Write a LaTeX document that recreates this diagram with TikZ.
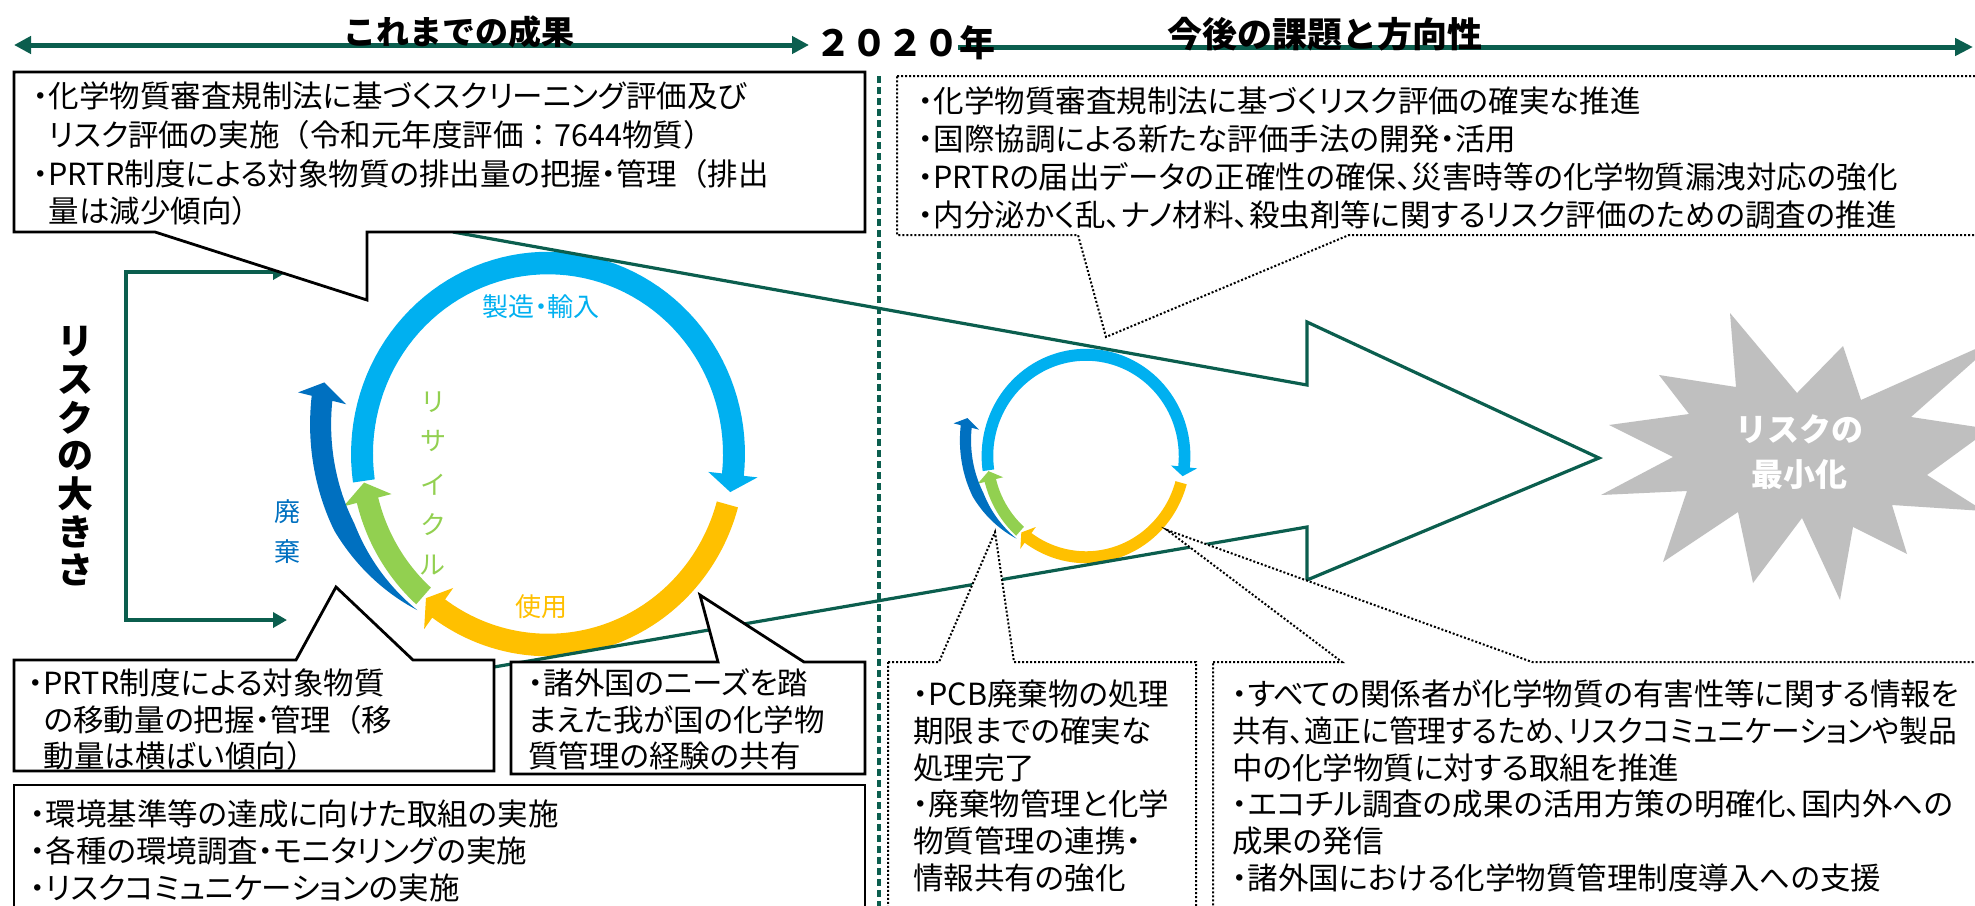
\documentclass[tikz,border=0pt]{standalone}
\usepackage{fontspec}
\usepackage{graphicx}
\setmainfont{Noto Sans CJK JP}[RawFeature=+palt]
\newfontfamily\jpt{Noto Sans CJK JP}
\usetikzlibrary{arrows.meta}
\definecolor{rteal}{HTML}{0B5E4E}
\definecolor{cyanb}{HTML}{00B0F0}
\definecolor{yelw}{HTML}{FFC000}
\definecolor{grn}{HTML}{92D050}
\definecolor{darkb}{HTML}{0070C0}
\definecolor{starg}{HTML}{BFBFBF}
\newcommand\fw[1]{{\jpt #1}}
% ring band with arrow head: start angle, base angle, tip angle, colour
\newcommand\rband[4]{%
  \fill[#4] plot[domain=#1:#2, samples=70, variable=\q] ({1.059*186*cos(\q)},{-1.059*191*sin(\q)})
    -- ({1.133*186*cos(#2)},{-1.133*191*sin(#2)})
    -- ({186*cos(#3)},{-191*sin(#3)})
    -- ({0.867*186*cos(#2)},{-0.867*191*sin(#2)})
    -- plot[domain=#2:#1, samples=70, variable=\q] ({0.941*186*cos(\q)},{-0.941*191*sin(\q)}) -- cycle;}
\newcommand\dband{%
  \fill[darkb] plot[domain=229.3:166.5, samples=60, variable=\q]
      ({(1.078+(229.3-\q)*0.00273+0.057*min(1,(229.3-\q)/30))*186*cos(\q)},
       {-(1.078+(229.3-\q)*0.00273+0.057*min(1,(229.3-\q)/30))*191*sin(\q)})
    -- ({1.382*186*cos(166.5)},{-1.382*191*sin(166.5)})
    -- ({1.26*186*cos(162.7)},{-1.26*191*sin(162.7)})
    -- ({1.116*186*cos(166.5)},{-1.116*191*sin(166.5)})
    -- plot[domain=166.5:229.3, samples=60, variable=\q]
      ({(1.078+(229.3-\q)*0.00273-0.057*min(1,(229.3-\q)/30))*186*cos(\q)},
       {-(1.078+(229.3-\q)*0.00273-0.057*min(1,(229.3-\q)/30))*191*sin(\q)})
    -- cycle;}
\newcommand\cyclebody{%
  \rband{188.1}{-6.2}{-11.5}{cyanb}%
  \rband{-15.3}{-126}{-131}{yelw}%
  \rband{228}{194}{188.6}{grn}%
  \dband}
\tikzset{
  body/.style={anchor=base west, inner sep=0pt, font=\fontsize{15.25}{18}\selectfont},
  boxline/.style={draw=black, line width=1.4pt, fill=white, line join=miter},
  dotbox/.style={draw=black, line width=1pt, dash pattern=on 1pt off 1pt, fill=white},
  head/.style={anchor=base, inner sep=0pt, font=\jpt\bfseries\fontsize{16.5}{20}\selectfont},
  clabel/.style={inner sep=0pt, font=\fontsize{13}{13}\selectfont},
  tealline/.style={draw=rteal, line width=1.6pt, line join=miter},
}
\begin{document}
\begin{tikzpicture}[x=0.5pt,y=-0.5pt]
\useasboundingbox (0,0) rectangle (1975,905);
\begin{scope}
\clip (0,0) rectangle (1975,905);
\fill[white] (0,0) rectangle (1975,905);

% top timeline arrows
\coordinate (la) at (14,45);
\coordinate (lb) at (809,45);
\coordinate (ra) at (958,47);
\coordinate (rb) at (1973,47);
\draw[rteal, line width=2.5pt, {Triangle[length=8.5pt,width=8.5pt]}-{Triangle[length=8.5pt,width=8.5pt]}] (la) -- (lb);
\draw[rteal, line width=2.5pt, -{Triangle[length=9pt,width=8.5pt]}] (ra) -- (rb);

% vertical dashed divider
\coordinate (va) at (879,76);
\coordinate (vb) at (879,910);
\draw[rteal, line width=2.2pt, dash pattern=on 3.5pt off 2pt] (va) -- (vb);

% risk-size bracket
\coordinate (bt) at (287,272);
\coordinate (bc1) at (126,272);
\coordinate (bc2) at (126,620);
\coordinate (bb) at (287,620);
\draw[rteal, line width=2.2pt, line join=miter, {Triangle[length=7pt,width=7.5pt]}-{Triangle[length=7pt,width=7.5pt]}] (bt) -- (bc1) -- (bc2) -- (bb);
\foreach \c [count=\i from 0] in {リ,ス,ク,の,大,き,さ}
  \node[inner sep=0pt, font=\jpt\bfseries\fontsize{18}{18}\selectfont] (rk\i) at (75,{342+38*\i}) {\c};

% big cycle
\begin{scope}[shift={(548,454)}]
\cyclebody
\end{scope}
% small cycle
\begin{scope}[shift={(1086,456)}, scale=0.53]
\cyclebody
\end{scope}

% cycle labels
\node[clabel, text=cyanb] (lmake) at (541,307) {製造・輸入};
\node[clabel, text=yelw] (luse) at (541,607) {使用};
\node[clabel, text=darkb] (ld1) at (287,512) {廃};
\node[clabel, text=darkb] (ld2) at (287,552) {棄};
\foreach \c/\yy [count=\i] in {リ/402,サ/441,イ/485,ク/525,ル/565}
  \node[clabel, text=grn] (lr\i) at (433,\yy) {\c};

% starburst
\fill[starg] (1730,313) -- (1797,393) -- (1843,346) -- (1861,400) -- (2000,338) -- (1911,417)
  -- (1990,429) -- (1927,475) -- (1984,511) -- (1892,505) -- (1907,554) -- (1853,527)
  -- (1840,600) -- (1802,518) -- (1753,583) -- (1738,512) -- (1663,562) -- (1687,491)
  -- (1601,495) -- (1673,457) -- (1609,425) -- (1689,414) -- (1659,375) -- (1736,387) -- cycle;
\node[text=white, inner sep=0pt, align=center, font=\jpt\bfseries\fontsize{16}{22.5}\selectfont] (rmin) at (1799,452) {リスクの\\最小化};

% big hollow arrow
\coordinate (a1) at (453,232);
\coordinate (a2) at (1307,385);
\coordinate (a3) at (1307,322);
\coordinate (a4) at (1599,458);
\coordinate (a5) at (1307,580);
\coordinate (a6) at (1307,527);
\coordinate (a7) at (494,667);
\draw[tealline] (a1) -- (a2) -- (a3) -- (a4) -- (a5) -- (a6) -- (a7);

% left callout boxes
\draw[boxline] (14,72) -- (865,72) -- (865,232) -- (367,232) -- (367,300) -- (155,232) -- (14,232) -- cycle;
\draw[boxline] (14,660) -- (296,660) -- (336,587) -- (413,660) -- (494,660) -- (494,771) -- (14,771) -- cycle;
\draw[boxline] (511,662) -- (718,662) -- (700,595) -- (804,662) -- (865,662) -- (865,774) -- (511,774) -- cycle;
\draw[boxline] (14,785) rectangle (865,930);

% right dotted callouts
\draw[dotbox] (897,76) -- (1990,76) -- (1990,235) -- (1349,235) -- (1106,337) -- (1078,235) -- (897,235) -- cycle;
\draw[dotbox] (888,662) -- (939,662) -- (995,532) -- (1014,662) -- (1196,662) -- (1196,930) -- (888,930) -- cycle;
\draw[dotbox] (1213,662) -- (1342,662) -- (1167,530) -- (1532,662) -- (1990,662) -- (1990,930) -- (1213,930) -- cycle;

% headings
\node[head] (h1) at (459,44) {これまでの成果};
\node[head, font=\jpt\bfseries\fontsize{17.5}{20}\selectfont] (h2) at (1325,47) {今後の課題と方向性};
\node[head, font=\jpt\bfseries\fontsize{18}{20}\selectfont] (h3) at (905,56) {２０２０年};

% box texts
\node[body] (b1a) at (33,107) {・化学物質審査規制法に基づくスクリーニング評価及び};
\node[body] (b1b) at (33,146) {\phantom{・}リスク評価の実施\fw{（}令和元年度評価\fw{：}7644物質\fw{）}};
\node[body] (b1c) at (33,185) {・PRTR制度による対象物質の排出量の把握・管理\fw{（}排出};
\node[body] (b1d) at (33,222) {\phantom{・}量は減少傾向\fw{）}};

\node[body] (b2a) at (28,694) {・PRTR制度による対象物質};
\node[body] (b2b) at (28,731) {\phantom{・}の移動量の把握・管理\fw{（}移};
\node[body] (b2c) at (28,767) {\phantom{・}動量は横ばい傾向\fw{）}};

\node[body] (b3a) at (528,694) {・諸外国のニーズを踏};
\node[body] (b3b) at (528,731) {まえた我が国の化学物};
\node[body] (b3c) at (528,767) {質管理の経験の共有};

\node[body] (b4a) at (30,825) {・環境基準等の達成に向けた取組の実施};
\node[body] (b4b) at (30,862) {・各種の環境調査・モニタリングの実施};
\node[body] (b4c) at (30,899) {・リスクコミュニケーションの実施};

\node[body] (r1a) at (918,112) {・化学物質審査規制法に基づくリスク評価の確実な推進};
\node[body] (r1b) at (918,150) {・国際協調による新たな評価手法の開発・活用};
\node[body] (r1c) at (918,188) {・PRTRの届出データの正確性の確保、災害時等の化学物質漏洩対応の強化};
\node[body] (r1d) at (918,226) {・内分泌かく乱、ナノ材料、殺虫剤等に関するリスク評価のための調査の推進};

\node[body] (p1) at (913,705) {・PCB廃棄物の処理};
\node[body] (p2) at (913,742) {期限までの確実な};
\node[body] (p3) at (913,779) {処理完了};
\node[body] (p4) at (913,815) {・廃棄物管理と化学};
\node[body] (p5) at (913,852) {物質管理の連携・};
\node[body] (p6) at (913,889) {情報共有の強化};

\node[body] (q1) at (1232,705) {・すべての関係者が化学物質の有害性等に関する情報を};
\node[body] (q2) at (1232,742) {\scalebox{0.94}[1]{共有、適正に管理するため、リスクコミュニケーションや製品}};
\node[body] (q3) at (1232,779) {中の化学物質に対する取組を推進};
\node[body] (q4) at (1232,815) {・エコチル調査の成果の活用方策の明確化、国内外への};
\node[body] (q5) at (1232,852) {成果の発信};
\node[body] (q6) at (1232,889) {・諸外国における化学物質管理制度導入への支援};
\end{scope}
\end{tikzpicture}
\end{document}
